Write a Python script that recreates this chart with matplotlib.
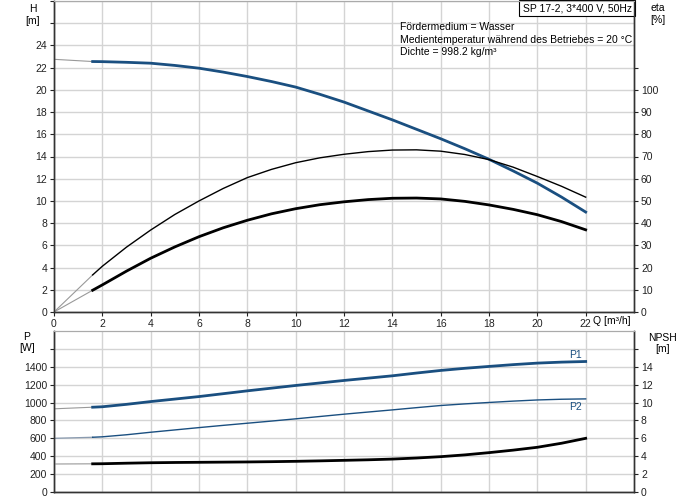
import numpy as np
import matplotlib
matplotlib.use("Agg")
import matplotlib.pyplot as plt

plt.rcParams["font.family"] = ["Liberation Sans", "DejaVu Sans"]

# curve data (Q in m3/h)
q = [1.6, 2, 3, 4, 5, 6, 7, 8, 9, 10, 11, 12, 13, 14, 15, 16, 17, 18, 19, 20, 21, 22]
head = [22.55, 22.54, 22.48, 22.4, 22.2, 21.95, 21.6, 21.2, 20.75, 20.25, 19.6,
        18.9, 18.1, 17.3, 16.45, 15.6, 14.7, 13.75, 12.7, 11.6, 10.35, 9.0]
eta_pump = [16.7, 20.6, 29.2, 36.9, 43.9, 50.0, 55.6, 60.5, 64.2, 67.2, 69.4,
            71.0, 72.2, 72.9, 73.0, 72.4, 70.9, 68.6, 65.2, 61.0, 56.6, 51.7]
eta_total = [9.8, 12.2, 18.4, 24.2, 29.3, 33.9, 37.9, 41.3, 44.2, 46.5, 48.3,
             49.6, 50.6, 51.2, 51.3, 50.9, 49.8, 48.2, 46.2, 43.8, 40.7, 37.0]
p1 = [948, 953, 980, 1011, 1039, 1067, 1099, 1131, 1161, 1191, 1219,
      1247, 1273, 1299, 1330, 1359, 1383, 1404, 1424, 1441, 1452, 1459]
p2 = [612, 617, 640, 668, 694, 720, 745, 769, 793, 818, 844,
      870, 894, 918, 943, 967, 985, 1001, 1016, 1029, 1037, 1041]
npsh = [3.15, 3.16, 3.22, 3.27, 3.30, 3.32, 3.34, 3.36, 3.39, 3.43, 3.48,
        3.54, 3.60, 3.68, 3.80, 3.95, 4.15, 4.40, 4.68, 5.00, 5.45, 6.00]

# values at Q = 0 (extrapolated part, drawn thin grey)
head0 = 22.75
p1_0 = 930
p2_0 = 600
npsh0 = 3.13

info_lines = ["Fördermedium = Wasser",
              "Medientemperatur während des Betriebes = 20 °C",
              "Dichte = 998.2 kg/m³"]
pump_name = "SP 17-2, 3*400 V, 50Hz"

blue = "#1a4f80"
grid_col = "#d4d4d4"
fs = 7.5

fig = plt.figure(figsize=(6.91, 5.0), dpi=100)
ax = fig.add_axes([54 / 691, 188 / 500, 580 / 691, 311 / 500])
ax2 = ax.twinx()
bx = fig.add_axes([54 / 691, 8 / 500, 580 / 691, 161 / 500])
bx2 = bx.twinx()

xmax = 24.0
xt = np.arange(0, 24, 2)


def style(a):
    for s in ["left", "bottom", "right"]:
        a.spines[s].set_color("#333333")
        a.spines[s].set_linewidth(1.0)
    a.spines["top"].set_color("#aaaaaa")
    a.tick_params(labelsize=fs, length=3, width=0.8, colors="#222222", pad=2)


# ---- top panel: head and efficiency ----
ax.set_xlim(0, xmax)
ax.set_ylim(0, 28)
ax.set_xticks(xt)
ax.set_xticklabels([str(v) for v in xt])
ax.set_yticks(np.arange(0, 29, 2))
ax.set_yticklabels([str(v) if v <= 24 else "" for v in range(0, 29, 2)])
ax.grid(True, color=grid_col, linewidth=1.0)
ax.set_axisbelow(True)
style(ax)

ax2.set_ylim(0, 140)
ax2.set_yticks(np.arange(0, 111, 10))
ax2.set_yticklabels([str(v) if v <= 100 else "" for v in range(0, 111, 10)])
style(ax2)

ax.plot([0, q[0]], [head0, head[0]], color="#999999", lw=0.8)
ax.plot(q, head, color=blue, lw=2.0)
ax2.plot([0, q[0]], [0, eta_pump[0]], color="#999999", lw=0.8)
ax2.plot(q, eta_pump, color="black", lw=1.0)
ax2.plot([0, q[0]], [0, eta_total[0]], color="#999999", lw=0.8)
ax2.plot(q, eta_total, color="black", lw=2.0)

ax.text(-0.87, 27.7, "H\n[m]", fontsize=fs, ha="center", va="top",
        linespacing=1.2)
ax2.text(xmax + 1.0, 139, "eta\n[%]", fontsize=fs, ha="center", va="top",
         linespacing=1.2)
ax.text(22.3, -0.85, "Q [m³/h]", fontsize=fs, ha="left", va="center")

for i, line in enumerate(info_lines):
    ax.text(14.3, 25.65 - i * 1.14, line, fontsize=fs, ha="left", va="center")
ax.text(xmax - 0.1, 27.8, pump_name, fontsize=fs, ha="right", va="top",
        bbox=dict(boxstyle="square,pad=0.3", fc="white", ec="black", lw=0.8))

# ---- bottom panel: power and NPSH ----
bx.set_xlim(0, xmax)
bx.set_ylim(0, 1800)
bx.set_xticks(xt)
bx.set_xticklabels([])
bx.set_yticks(np.arange(0, 1601, 200))
bx.set_yticklabels([str(v) if v <= 1400 else "" for v in range(0, 1601, 200)])
bx.grid(True, color=grid_col, linewidth=1.0)
bx.set_axisbelow(True)
style(bx)
bx.tick_params(axis="x", length=0)

bx2.set_ylim(0, 18)
bx2.set_yticks(np.arange(0, 17, 2))
bx2.set_yticklabels([str(v) if v <= 14 else "" for v in range(0, 17, 2)])
style(bx2)

bx.plot([0, q[0]], [p1_0, p1[0]], color="#999999", lw=0.8)
bx.plot(q, p1, color=blue, lw=2.0)
bx.plot([0, q[0]], [p2_0, p2[0]], color="#8a9bb0", lw=0.9)
bx.plot(q, p2, color=blue, lw=1.0)
bx2.plot([0, q[0]], [npsh0, npsh[0]], color="#999999", lw=0.8)
bx2.plot(q, npsh, color="black", lw=2.0)

bx.text(21.6, 1535, "P1", fontsize=fs, color=blue, ha="center", va="center")
bx.text(21.6, 950, "P2", fontsize=fs, color=blue, ha="center", va="center")

bx.text(-1.12, 1790, "P\n[W]", fontsize=fs, ha="center", va="top",
        linespacing=1.2)
bx2.text(xmax + 1.17, 17.8, "NPSH\n[m]", fontsize=fs, ha="center", va="top",
         linespacing=1.2)

fig.savefig("out.png", dpi=100)
